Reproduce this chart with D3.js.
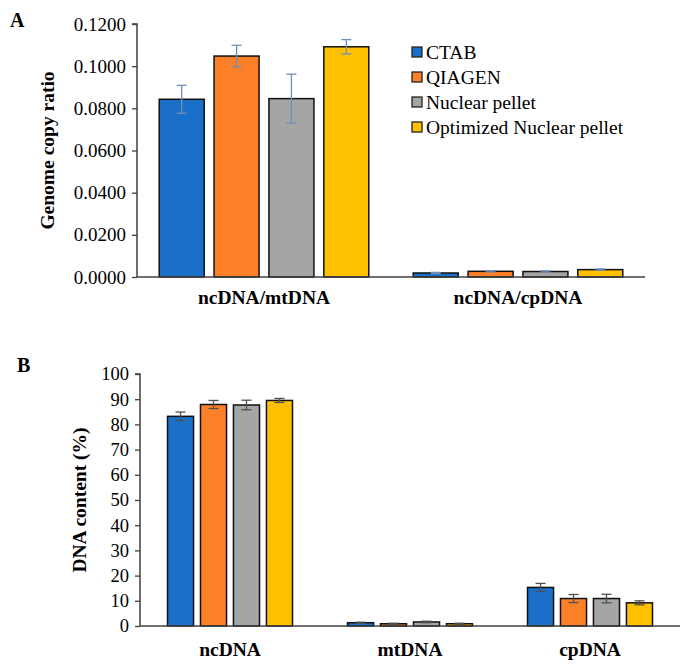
<!DOCTYPE html>
<html><head><meta charset="utf-8">
<script src="https://cdn.jsdelivr.net/npm/d3@7"></script>
<style>body{margin:0;background:#fff}svg{display:block}text{font-family:"Liberation Serif","Times New Roman",serif;fill:#000}</style>
</head><body>
<script>
const series = ["CTAB","QIAGEN","Nuclear pellet","Optimized Nuclear pellet"];
const colors = ["#1a70c8","#fd7f27","#a5a5a5","#ffc000"];

const groupsA = ["ncDNA/mtDNA","ncDNA/cpDNA"];
const valuesA = [[0.0843,0.1048,0.0846,0.1092],[0.0019,0.0027,0.0026,0.0035]];
const errorsA = [[0.0066,0.0051,0.0116,0.0034],[0.0003,0.0003,0.0003,0.0003]];
const ticksA = [0,0.02,0.04,0.06,0.08,0.10,0.12];

const groupsB = ["ncDNA","mtDNA","cpDNA"];
const valuesB = [[83.2,87.9,87.7,89.5],[1.3,0.9,1.6,0.9],[15.3,10.9,10.9,9.2]];
const errorsB = [[1.7,1.6,1.9,0.8],[0.2,0.2,0.3,0.2],[1.6,1.6,1.7,0.8]];
const ticksB = [0,10,20,30,40,50,60,70,80,90,100];

const svg = d3.select("body").append("svg").attr("width",690).attr("height",671);

function panel(cfg){
  const g = svg.append("g");
  const x0 = d3.scaleBand().domain(cfg.groups).range(cfg.xr).paddingInner(cfg.pi).paddingOuter(cfg.pi/2);
  const x1 = d3.scaleBand().domain(series).range([0,x0.bandwidth()]).paddingInner(cfg.bi);
  const y = d3.scaleLinear().domain(cfg.domain).range(cfg.yr);
  const ya = g.append("g").attr("transform",`translate(${cfg.xr[0]},0)`)
    .call(d3.axisLeft(y).tickValues(cfg.ticks).tickSize(5).tickPadding(6).tickFormat(cfg.fmt));
  ya.select(".domain").attr("stroke","#404040").attr("stroke-width",1.5).attr("d",`M-5,${cfg.yr[1]}H0V${cfg.yr[0]}`);
  ya.selectAll(".tick line").attr("stroke","#404040").attr("stroke-width",1.3);
  ya.selectAll(".tick text").style("font-size",cfg.tickFs+"px").attr("fill","#000");
  cfg.groups.forEach((grp,gi)=>{
    const gg = g.append("g").attr("transform",`translate(${x0(grp)},0)`);
    series.forEach((s,si)=>{
      const v = cfg.values[gi][si], e = cfg.errors[gi][si];
      gg.append("rect").attr("x",x1(s)).attr("width",x1.bandwidth())
        .attr("y",y(v)).attr("height",y(0)-y(v))
        .attr("fill",colors[si]).attr("stroke","#111").attr("stroke-width",1.5);
      const cx = x1(s)+x1.bandwidth()/2;
      const eb = gg.append("g").attr("stroke",cfg.errColor).attr("stroke-width",1.3);
      eb.append("line").attr("x1",cx).attr("x2",cx).attr("y1",y(v+e)).attr("y2",y(v-e));
      eb.append("line").attr("x1",cx-5).attr("x2",cx+5).attr("y1",y(v+e)).attr("y2",y(v+e));
      eb.append("line").attr("x1",cx-5).attr("x2",cx+5).attr("y1",y(v-e)).attr("y2",y(v-e));
    });
    g.append("text").attr("x",x0(grp)+x0.bandwidth()/2).attr("y",cfg.catY)
      .attr("text-anchor","middle").style("font-size","19.5px").style("font-weight","bold").text(grp);
  });
  g.append("line").attr("x1",cfg.xr[0]).attr("x2",cfg.xr[1]).attr("y1",y(0)).attr("y2",y(0))
    .attr("stroke","#404040").attr("stroke-width",1.5);
  g.append("text").attr("transform",`translate(${cfg.ylx},${(cfg.yr[0]+cfg.yr[1])/2}) rotate(-90)`)
    .attr("text-anchor","middle").style("font-size","19.5px").style("font-weight","bold").text(cfg.ylabel);
  g.append("text").attr("x",cfg.letter[1]).attr("y",cfg.letter[2])
    .style("font-size","20px").style("font-weight","bold").text(cfg.letter[0]);
  return g;
}

panel({groups:groupsA, values:valuesA, errors:errorsA, ticks:ticksA, domain:[0,0.12],
  xr:[137,645], yr:[277,24], pi:0.175, bi:0.18, fmt:d3.format(".4f"), tickFs:19,
  errColor:"#6f8fb8", catY:304, ylabel:"Genome copy ratio", ylx:54, letter:["A",10,27]});

panel({groups:groupsB, values:valuesB, errors:errorsB, ticks:ticksB, domain:[0,100],
  xr:[140,680], yr:[626,374], pi:0.3056, bi:0.21, fmt:d3.format("d"), tickFs:18.5,
  errColor:"#505050", catY:656, ylabel:"DNA content (%)", ylx:86, letter:["B",17,372]});

const leg = svg.append("g");
series.forEach((s,i)=>{
  const yy = 52 + i*25;
  leg.append("rect").attr("x",412).attr("y",yy-5).attr("width",10).attr("height",10)
    .attr("fill",colors[i]).attr("stroke","#222").attr("stroke-width",1.3);
  leg.append("text").attr("x",426).attr("y",yy+6.5).style("font-size","19.5px").text(s);
});
</script>
</body></html>
